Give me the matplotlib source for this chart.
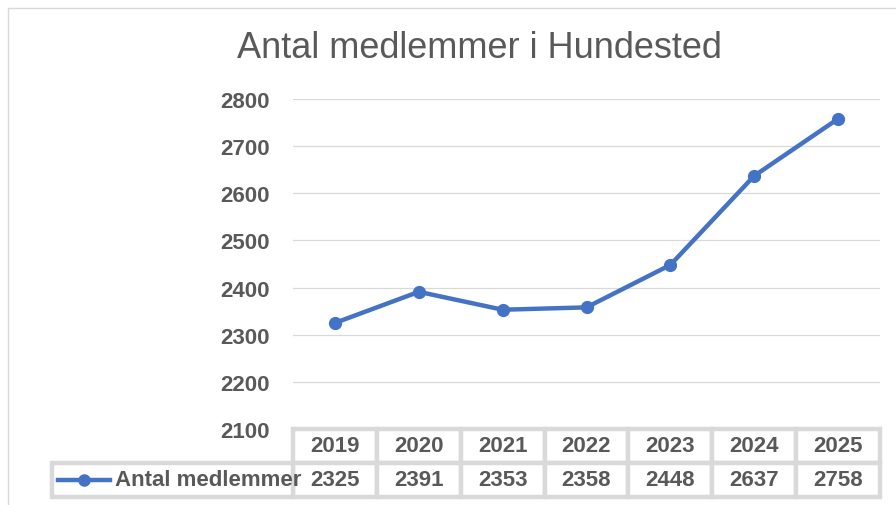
## Antal medlemmer i Hundested - line chart with data table

import matplotlib.pyplot as plt
from matplotlib.patches import Rectangle
from matplotlib.lines import Line2D

# Data
years = ['2019', '2020', '2021', '2022', '2023', '2024', '2025']
members = [2325, 2391, 2353, 2358, 2448, 2637, 2758]
series_name = 'Antal medlemmer'
title = 'Antal medlemmer i Hundested'
y_ticks = [2100, 2200, 2300, 2400, 2500, 2600, 2700, 2800]

plt.rcParams['font.family'] = ['Liberation Sans', 'DejaVu Sans']

blue = '#4472C4'
txt = '#595959'
border = '#d9d9d9'

fig = plt.figure(figsize=(8.96, 5.06), dpi=100)

# Outer chart frame (only left/top visible in the crop)
fig.patches.append(Rectangle((8 / 896, -0.1), 1.2, (506 - 9) / 506 + 0.1,
                             transform=fig.transFigure, fill=False,
                             edgecolor=border, lw=1))

ax = fig.add_axes([293 / 896, 76 / 506, 587 / 896, 330 / 506])
x = list(range(1, len(years) + 1))

ax.plot(x, members, color=blue, lw=3.2, marker='o', markersize=8.5, zorder=3)

ax.set_xlim(0.5, len(years) + 0.5)
ax.set_ylim(y_ticks[0], y_ticks[-1])
ax.set_yticks(y_ticks)
ax.set_yticklabels([str(t) for t in y_ticks], fontsize=16, fontweight='bold', color=txt)
ax.tick_params(axis='y', length=0, pad=17)
ax.set_xticks([])
ax.grid(axis='y', color=border, lw=0.9)
ax.set_axisbelow(True)
for s in ax.spines.values():
    s.set_visible(False)

fig.text(479 / 896, 1 - 48 / 506, title, ha='center', va='center', fontsize=26, color=txt)

# Data table under the plot area
tr = ax.get_xaxis_transform()
row_top = 0.0
row_mid = -0.103
row_bot = -0.206
legend_left = -2.37

for i, xi in enumerate(x):
    ax.add_patch(Rectangle((xi - 0.5, row_mid), 1, row_top - row_mid, transform=tr,
                           facecolor='white', edgecolor=border, lw=3.2, clip_on=False, zorder=4))
    ax.add_patch(Rectangle((xi - 0.5, row_bot), 1, row_mid - row_bot, transform=tr,
                           facecolor='white', edgecolor=border, lw=3.2, clip_on=False, zorder=4))
    ax.text(xi, (row_top + row_mid) / 2, years[i], transform=tr, ha='center', va='center',
            fontsize=16, fontweight='bold', color=txt, zorder=6)
    ax.text(xi, (row_mid + row_bot) / 2, str(members[i]), transform=tr, ha='center', va='center',
            fontsize=16, fontweight='bold', color=txt, zorder=6)

ax.add_patch(Rectangle((legend_left, row_bot), 0.5 - legend_left, row_mid - row_bot, transform=tr,
                       facecolor='white', edgecolor=border, lw=3.2, clip_on=False, zorder=4))

# Legend key inside the table
ymid = (row_mid + row_bot) / 2
ax.add_line(Line2D([-2.30, -1.68], [ymid, ymid], transform=tr, color=blue, lw=3.2,
                   clip_on=False, zorder=5))
ax.add_line(Line2D([-1.99], [ymid], transform=tr, color=blue, marker='o', markersize=8,
                   clip_on=False, zorder=5))
ax.text(-1.62, ymid, series_name, transform=tr, ha='left', va='center',
        fontsize=16, fontweight='bold', color=txt, zorder=6)

fig.savefig('out.png', dpi=100)
